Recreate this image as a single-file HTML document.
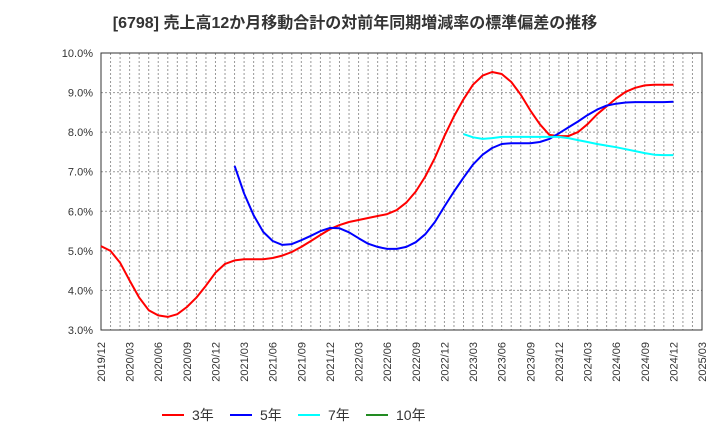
<!DOCTYPE html>
<html><head><meta charset="utf-8"><style>
body{margin:0;background:#fff;}
svg{display:block;font-family:"Liberation Sans","Noto Sans CJK JP",sans-serif;}
</style></head><body>
<svg id="c" width="720" height="440">
<text x="355" y="28" text-anchor="middle" font-size="16" font-weight="bold" fill="#333">[6798]  売上高12か月移動合計の対前年同期増減率の標準偏差の推移</text>
</svg>
<script>
const xLabels=["2019/12","2020/03","2020/06","2020/09","2020/12","2021/03","2021/06","2021/09","2021/12","2022/03","2022/06","2022/09","2022/12","2023/03","2023/06","2023/09","2023/12","2024/03","2024/06","2024/09","2024/12","2025/03"];
const yTicks=[3,4,5,6,7,8,9,10];
const s3=[5.12,5.0,4.7,4.25,3.82,3.5,3.37,3.33,3.4,3.58,3.82,4.12,4.45,4.67,4.76,4.79,4.79,4.79,4.82,4.88,4.97,5.1,5.25,5.4,5.55,5.65,5.73,5.78,5.83,5.88,5.93,6.03,6.22,6.5,6.88,7.35,7.9,8.4,8.83,9.2,9.43,9.52,9.47,9.27,8.95,8.55,8.2,7.93,7.9,7.9,8.0,8.2,8.45,8.65,8.85,9.02,9.12,9.18,9.2,9.2,9.2];
const s5Start=14;
const s5=[7.15,6.45,5.9,5.48,5.25,5.15,5.17,5.27,5.38,5.5,5.58,5.57,5.47,5.32,5.18,5.1,5.05,5.05,5.1,5.22,5.42,5.73,6.12,6.5,6.85,7.18,7.43,7.6,7.7,7.72,7.72,7.72,7.75,7.83,7.97,8.12,8.27,8.43,8.57,8.67,8.72,8.75,8.76,8.76,8.76,8.76,8.77];
const s7Start=38;
const s7=[7.95,7.87,7.83,7.85,7.88,7.88,7.88,7.88,7.88,7.88,7.88,7.85,7.8,7.75,7.7,7.66,7.62,7.57,7.52,7.47,7.43,7.42,7.42];
const s10=[];
const L=101,R=702,T=53,B=330,N=63,yMin=3,yMax=10;
const xs=i=>L+(R-L)*i/N;
const ys=v=>B-(B-T)*(v-yMin)/(yMax-yMin);
const svg=document.getElementById('c');
const NS='http://www.w3.org/2000/svg';
function mk(t,a){const e=document.createElementNS(NS,t);for(const k in a)e.setAttribute(k,a[k]);svg.appendChild(e);return e;}
for(let i=1;i<N;i++){const g=mk('line',{x1:xs(i),x2:xs(i),y1:T,y2:B,stroke:'#999','stroke-dasharray':'2,2','stroke-width':1});

}
yTicks.forEach(v=>{
 if(v>yMin&&v<yMax){const g=mk('line',{x1:L,x2:R,y1:ys(v),y2:ys(v),stroke:'#999','stroke-dasharray':'2,2','stroke-width':1});
 
 }
 const t=mk('text',{x:93,y:ys(v)+4,'text-anchor':'end','font-size':11,fill:'#333'});t.textContent=v.toFixed(1)+'%';
 
 
});
xLabels.forEach((s,k)=>{const x=xs(k*3);
 const t=mk('text',{x:0,y:0,'text-anchor':'end','font-size':11,fill:'#333',transform:`translate(${x+4},342) rotate(-90)`});t.textContent=s;
 
 });
const fr=mk('rect',{x:L,y:T,width:R-L,height:B-T,fill:'none',stroke:'#333','stroke-width':1});


function series(d,st,col,name){if(!d.length)return;const p=d.map((v,i)=>xs(st+i).toFixed(1)+','+ys(v).toFixed(1)).join(' ');
 const l=mk('polyline',{points:p,fill:'none',stroke:col,'stroke-width':2,'stroke-linejoin':'round'});
 
 }
series(s3,0,'#ff0000','line-3yr');
series(s5,s5Start,'#0000ff','line-5yr');
series(s7,s7Start,'#00ffff','line-7yr');
series(s10,0,'#228b22','line-10yr');
[['3年','#ff0000',162],['5年','#0000ff',230],['7年','#00ffff',298],['10年','#228b22',366]].forEach(e=>{
 const l=mk('line',{x1:e[2],x2:e[2]+22,y1:415,y2:415,stroke:e[1],'stroke-width':2});
 
 
 const t=mk('text',{x:e[2]+30,y:420,'font-size':14,fill:'#333'});t.textContent=e[0];
 
 
});
</script>
</body></html>
